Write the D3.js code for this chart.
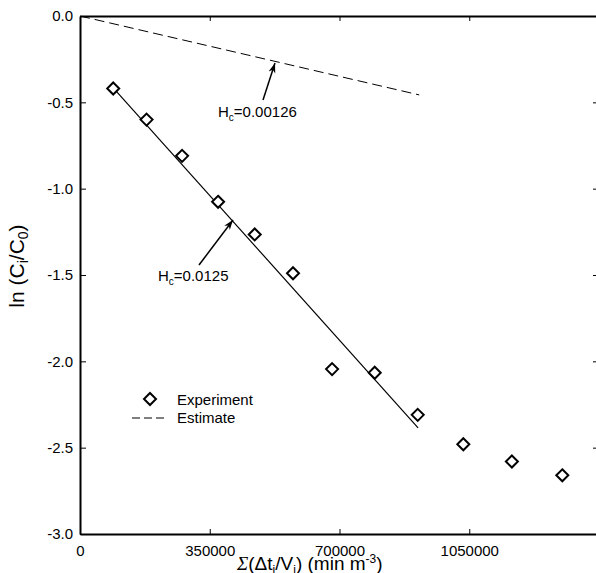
<!DOCTYPE html>
<html>
  <style>
    body { margin: 0; background: white; }
    text { font-family: Arial, "Liberation Sans", sans-serif; }
    .axis path, .axis line { stroke: black; }
    .axis text { font-size: 15px; fill: black; }
  </style>
  <body onload="main()">
    <div id="chart"></div>
  </body>
  <script src="https://d3js.org/d3.v7.min.js"></script>
  <script>
    const EXP_X = [89600, 179500, 275400, 372500, 471300, 574600, 680000, 795000, 911000, 1034000, 1165000, 1301000];
    const EXP_Y = [-0.42, -0.60, -0.81, -1.076, -1.265, -1.49, -2.045, -2.066, -2.31, -2.48, -2.58, -2.66];

    // Fitted line (Hc = 0.0125) and estimate line (Hc = 0.00126)
    const FIT_X = [89000, 912000];
    const FIT_Y = [-0.415, -2.385];
    const EST_X = [0, 915000];
    const EST_Y = [0, -0.457];

    const X_TICKS = [0, 350000, 700000, 1050000];
    const Y_TICKS = [0, -0.5, -1.0, -1.5, -2.0, -2.5, -3.0];

    function main() {
      var W = 596, H = 573;
      var svg = d3.select("#chart").append("svg")
        .attr("width", W).attr("height", H);

      var x = d3.scaleLinear().domain([0, 1400000]).range([80, 599]);
      var y = d3.scaleLinear().domain([-3, 0]).range([534, 16]);

      svg.append("defs").append("marker")
        .attr("id", "arrow")
        .attr("viewBox", "-10 -5 12 10")
        .attr("refX", 0).attr("refY", 0)
        .attr("markerWidth", 12).attr("markerHeight", 10)
        .attr("markerUnits", "userSpaceOnUse")
        .attr("orient", "auto")
        .append("path")
        .attr("d", "M0,0 L-10,-3.5 L-7,0 L-10,3.5 Z")
        .attr("fill", "black");

      // Axes, ticks pointing inward
      svg.append("g").attr("class", "axis")
        .attr("transform", "translate(80,0)")
        .call(d3.axisLeft(y).tickValues(Y_TICKS).tickSizeInner(-6).tickSizeOuter(0)
          .tickPadding(7).tickFormat(function (d) { return d.toFixed(1); }))
        .call(function (g) { g.select(".domain").attr("stroke-width", 2); });

      svg.append("g").attr("class", "axis")
        .attr("transform", "translate(599,0)")
        .call(d3.axisRight(y).tickValues(Y_TICKS).tickSizeInner(-6).tickSizeOuter(0).tickFormat(""))
        .call(function (g) { g.select(".domain").attr("stroke-width", 2); });

      svg.append("g").attr("class", "axis")
        .attr("transform", "translate(0,534)")
        .call(d3.axisBottom(x).tickValues(X_TICKS).tickSizeInner(-5).tickSizeOuter(0)
          .tickPadding(11).tickFormat(function (d) { return String(d); }))
        .call(function (g) { g.select(".domain").attr("stroke-width", 2); });

      svg.append("g").attr("class", "axis")
        .attr("transform", "translate(0,16)")
        .call(d3.axisTop(x).tickValues(X_TICKS).tickSizeInner(-5).tickSizeOuter(0).tickFormat(""))
        .call(function (g) { g.select(".domain").attr("stroke-width", 2); });

      var line = d3.line()
        .x(function (d) { return x(d[0]); })
        .y(function (d) { return y(d[1]); });

      // Estimate (dashed)
      svg.append("path")
        .datum(d3.zip(EST_X, EST_Y))
        .attr("d", line)
        .attr("fill", "none").attr("stroke", "black").attr("stroke-width", 1)
        .attr("stroke-dasharray", "10,5");

      // Fit (solid)
      svg.append("path")
        .datum(d3.zip(FIT_X, FIT_Y))
        .attr("d", line)
        .attr("fill", "none").attr("stroke", "black").attr("stroke-width", 1.2);

      // Experiment diamonds
      var diamond = "M0,-6 L6,0 L0,6 L-6,0 Z";
      svg.selectAll(".pt")
        .data(d3.zip(EXP_X, EXP_Y))
        .enter().append("path")
        .attr("class", "pt")
        .attr("d", diamond)
        .attr("transform", function (d) { return "translate(" + x(d[0]) + "," + y(d[1]) + ")"; })
        .attr("fill", "white").attr("stroke", "black").attr("stroke-width", 2);

      // Annotations with arrows
      var ann1 = svg.append("text").attr("x", 158).attr("y", 281).attr("font-size", 15);
      ann1.append("tspan").text("H");
      ann1.append("tspan").attr("font-size", 10).attr("dy", 4).text("c");
      ann1.append("tspan").attr("dy", -4).text("=0.0125");
      svg.append("line")
        .attr("x1", 199).attr("y1", 265).attr("x2", 233).attr("y2", 220)
        .attr("stroke", "black").attr("stroke-width", 1.5)
        .attr("marker-end", "url(#arrow)");

      var ann2 = svg.append("text").attr("x", 218).attr("y", 117).attr("font-size", 15);
      ann2.append("tspan").text("H");
      ann2.append("tspan").attr("font-size", 10).attr("dy", 4).text("c");
      ann2.append("tspan").attr("dy", -4).text("=0.00126");
      svg.append("line")
        .attr("x1", 263).attr("y1", 100).attr("x2", 275).attr("y2", 63)
        .attr("stroke", "black").attr("stroke-width", 1.5)
        .attr("marker-end", "url(#arrow)");

      // Legend
      svg.append("path").attr("d", diamond)
        .attr("transform", "translate(150,399)")
        .attr("fill", "white").attr("stroke", "black").attr("stroke-width", 2);
      svg.append("text").attr("x", 177).attr("y", 405).attr("font-size", 15).text("Experiment");
      svg.append("line")
        .attr("x1", 132).attr("x2", 166).attr("y1", 418).attr("y2", 418)
        .attr("stroke", "black").attr("stroke-width", 1)
        .attr("stroke-dasharray", "8,4");
      svg.append("text").attr("x", 177).attr("y", 423).attr("font-size", 15).text("Estimate");

      // Y axis title
      var yt = svg.append("text")
        .attr("transform", "translate(24,266) rotate(-90)")
        .attr("text-anchor", "middle").attr("font-size", 21);
      yt.append("tspan").text("ln (C");
      yt.append("tspan").attr("font-size", 14).attr("dy", 4).text("i");
      yt.append("tspan").attr("dy", -4).text("/C");
      yt.append("tspan").attr("font-size", 14).attr("dy", 4).text("0");
      yt.append("tspan").attr("dy", -4).text(")");

      // X axis title
      var xt = svg.append("text").attr("x", 237).attr("y", 570).attr("font-size", 19);
      var serif = "'Liberation Serif', 'DejaVu Serif', serif";
      xt.append("tspan").attr("font-family", serif).attr("font-style", "italic").text("\u03A3");
      xt.append("tspan").text("(\u0394t");
      xt.append("tspan").attr("font-size", 12).attr("dy", 4).text("i");
      xt.append("tspan").attr("dy", -4).text("/V");
      xt.append("tspan").attr("font-size", 12).attr("dy", 4).text("i");
      xt.append("tspan").attr("dy", -4).text(")");
      xt.append("tspan").text(" (min m");
      xt.append("tspan").attr("font-size", 12).attr("dy", -7).text("-3");
      xt.append("tspan").attr("dy", 7).text(")");
    }
  </script>
</html>
